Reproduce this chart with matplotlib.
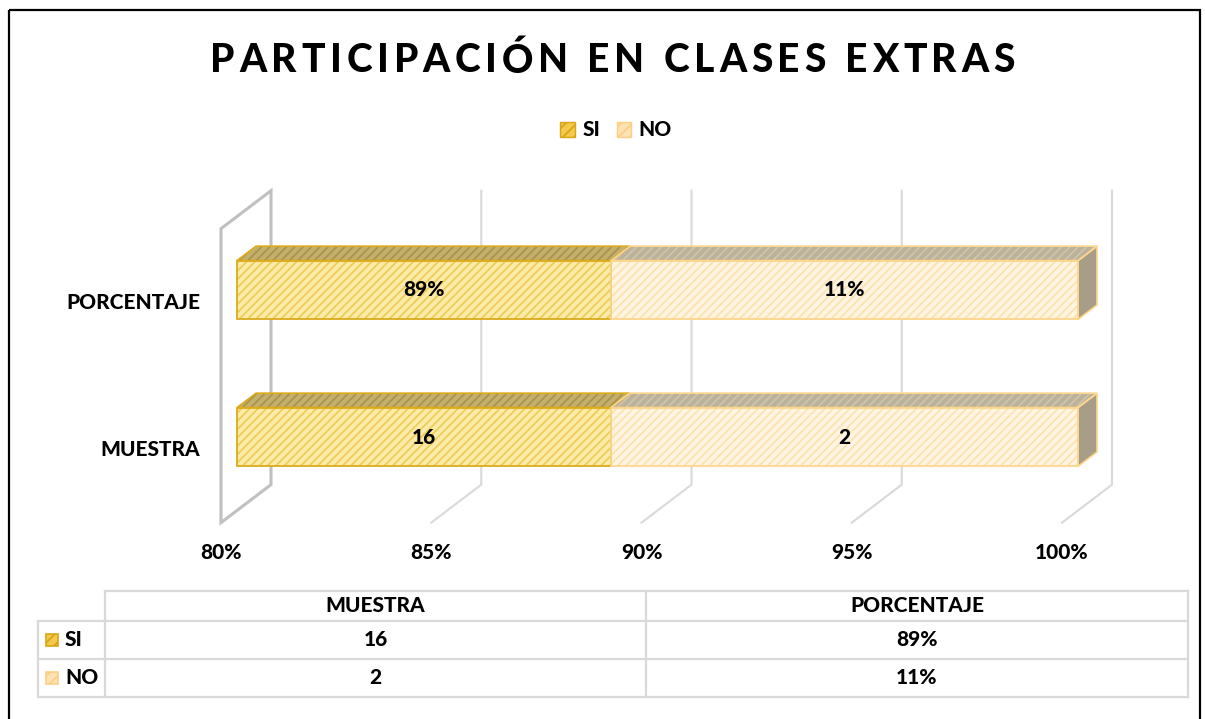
import matplotlib
matplotlib.use('Agg')
import matplotlib.pyplot as plt
from matplotlib.patches import Polygon, Rectangle, Patch
from matplotlib.lines import Line2D
from matplotlib.transforms import Affine2D

# ---------------- data ----------------
categories = ['MUESTRA', 'PORCENTAJE']
series_names = ['SI', 'NO']
si_values = [16, 0.889]
no_values = [2, 0.111]
si_labels = ['16', '89%']
no_labels = ['2', '11%']
x_ticks = [80, 85, 90, 95, 100]
x_tick_labels = ['80%', '85%', '90%', '95%', '100%']
title = 'PARTICIPACIÓN EN CLASES EXTRAS'

# ---------------- style ----------------
FONT = ['Lato', 'DejaVu Sans']
plt.rcParams['font.family'] = FONT
plt.rcParams['hatch.linewidth'] = 1.3
WT = 'black'
FS = 15

W, H = 1205, 719
PX_X = 841 / 20.0      # pixels per percent unit
PX_Y = 147.0           # pixels per category
OX, OY = 237, 437      # pixel position of (80%, category 0) on bar front plane
X0 = 80
DXu, DYu = 50 / PX_X, 38 / PX_Y   # full depth vector in data units
ZB, BD = 0.32, 0.38               # bar front depth and bar depth
BAR_H = 0.4

SI_FACE, SI_HATCH, SI_EDGE = '#fcecaa', '#f0cc58', '#dcab1c'
SI_TOP, SI_TOP_H = '#c4b06a', '#a9944e'
NO_FACE, NO_HATCH, NO_EDGE = '#fff5e2', '#fde2b0', '#fdd68c'
NO_TOP, NO_TOP_H = '#bcb19a', '#cfc3aa'
NO_SIDE = '#a89d86'
GRID = '#d9d9d9'
WALL = '#c0c0c0'

fig = plt.figure(figsize=(W / 100, H / 100), dpi=100)
ax = fig.add_axes([0, 0, 1, 1])
ax.set_xlim(X0 + (0 - OX) / PX_X, X0 + (W - OX) / PX_X)
ax.set_ylim((OY - H) / PX_Y, OY / PX_Y)
ax.axis('off')

TPX = Affine2D().scale(1 / W, -1 / H).translate(0, 1) + fig.transFigure


def P(x, y, z):
    return (x + (z - ZB) * DXu, y + (z - ZB) * DYu)


# outer frame
fig.add_artist(Rectangle((9, 10), 1191, 740, transform=TPX, fill=False,
                         edgecolor='black', linewidth=1.6))

# back wall gridlines + floor lines
ylo, yhi = -0.5, len(categories) - 0.5
for t in x_ticks[1:]:
    pts = [P(t, yhi, 1), P(t, ylo, 1), P(t, ylo, 0)]
    ax.plot([p[0] for p in pts], [p[1] for p in pts], color=GRID, lw=1.5,
            zorder=1, solid_joinstyle='miter')
# left wall
wall = [P(X0, ylo, 0), P(X0, yhi, 0), P(X0, yhi, 1), P(X0, ylo, 1)]
ax.add_patch(Polygon(wall, closed=True, fill=False, edgecolor=WALL, lw=2.2,
                     zorder=1, joinstyle='miter'))


def face(pts, fc, hc, ec, z=3, lw=1.2):
    ax.add_patch(Polygon(pts, closed=True, facecolor=fc, edgecolor=hc,
                         hatch='////', lw=0, zorder=z))
    ax.add_patch(Polygon(pts, closed=True, fill=False, edgecolor=ec,
                         lw=lw, zorder=z + 0.1, joinstyle='miter'))


for i, cat in enumerate(categories):
    total = si_values[i] + no_values[i]
    si_pct = si_values[i] / total * 100
    yt = i + BAR_H / 2
    yb = i - BAR_H / 2
    # top faces
    face([P(X0, yt, ZB), P(si_pct, yt, ZB), P(si_pct, yt, ZB + BD), P(X0, yt, ZB + BD)],
         SI_TOP, SI_TOP_H, SI_EDGE)
    face([P(si_pct, yt, ZB), P(100, yt, ZB), P(100, yt, ZB + BD), P(si_pct, yt, ZB + BD)],
         NO_TOP, NO_TOP_H, NO_EDGE)
    # right end face
    ax.add_patch(Polygon([P(100, yb, ZB), P(100, yt, ZB), P(100, yt, ZB + BD), P(100, yb, ZB + BD)],
                         closed=True, facecolor=NO_SIDE, edgecolor=NO_EDGE, lw=1.2, zorder=3))
    # front faces
    ax.barh(i, si_pct - X0, left=X0, height=BAR_H, color=SI_FACE, edgecolor=SI_HATCH,
            hatch='////', lw=0, zorder=4)
    ax.barh(i, si_pct - X0, left=X0, height=BAR_H, fill=False, edgecolor=SI_EDGE, lw=1.3, zorder=5)
    ax.barh(i, 100 - si_pct, left=si_pct, height=BAR_H, color=NO_FACE, edgecolor=NO_HATCH,
            hatch='////', lw=0, zorder=4)
    ax.barh(i, 100 - si_pct, left=si_pct, height=BAR_H, fill=False, edgecolor=NO_EDGE, lw=1.3, zorder=5)
    # data labels
    ax.text((X0 + si_pct) / 2, i, si_labels[i], ha='center', va='center',
            fontsize=FS, fontweight=WT, zorder=6)
    ax.text((si_pct + 100) / 2, i, no_labels[i], ha='center', va='center',
            fontsize=FS, fontweight=WT, zorder=6)
    # category label
    ax.annotate(cat, xy=P(X0, i, 0), xytext=(-21, 0), textcoords='offset pixels',
                ha='right', va='center', fontsize=FS, fontweight=WT)

# tick labels
for t, lab in zip(x_ticks, x_tick_labels):
    ax.annotate(lab, xy=P(t, ylo, 0), xytext=(0, -30), textcoords='offset pixels',
                ha='center', va='center', fontsize=FS, fontweight=WT)

# legend
handles = [Patch(facecolor='#f2c94c', edgecolor='#d9a514', hatch='///', label='SI'),
           Patch(facecolor='#fde3b3', edgecolor='#fccf85', hatch='///', label='NO')]
fig.legend(handles=handles, loc='center', bbox_to_anchor=(616 / W, 1 - 130 / H), ncol=2,
           frameon=False, handlelength=0.7, handleheight=0.7, handletextpad=0.35,
           columnspacing=0.8, prop={'weight': WT, 'size': FS})

# title with letter spacing
renderer = fig.canvas.get_renderer()


def text_w(s, size):
    t = fig.text(0, 0, s, fontsize=size, fontweight=WT)
    w = t.get_window_extent(renderer).width
    t.remove()
    return w


TSIZE = 28
xl, xr, yc = 210, 1015, 61
bar_w = text_w('|', TSIZE)
nat = text_w(title, TSIZE)
spacing = (xr - xl - nat) / (len(title) - 1)
for k, ch in enumerate(title):
    if ch == ' ':
        continue
    off = text_w(title[:k] + '|', TSIZE) - bar_w if k > 0 else 0
    fig.text(xl + off + k * spacing, yc, ch, transform=TPX, fontsize=TSIZE,
             fontweight=WT, ha='left', va='center')

# data table
TL = dict(color=GRID, lw=1.6, transform=TPX)
cx = [38, 105, 646, 1188]
ry = [591, 621, 659, 697]
fig.add_artist(Line2D([cx[1], cx[3]], [ry[0], ry[0]], **TL))
for y in ry[1:]:
    fig.add_artist(Line2D([cx[0], cx[3]], [y, y], **TL))
fig.add_artist(Line2D([cx[0], cx[0]], [ry[1], ry[3]], **TL))
for x in cx[1:]:
    fig.add_artist(Line2D([x, x], [ry[0], ry[3]], **TL))
for j, cat in enumerate(categories):
    xc = (cx[j + 1] + cx[j + 2]) / 2
    fig.text(xc, (ry[0] + ry[1]) / 2, cat, transform=TPX, ha='center', va='center',
             fontsize=FS, fontweight=WT)
    fig.text(xc, (ry[1] + ry[2]) / 2, si_labels[j], transform=TPX, ha='center', va='center',
             fontsize=FS, fontweight=WT)
    fig.text(xc, (ry[2] + ry[3]) / 2, no_labels[j], transform=TPX, ha='center', va='center',
             fontsize=FS, fontweight=WT)
for r, (name, h) in enumerate(zip(series_names, handles)):
    yc_r = (ry[r + 1] + ry[r + 2]) / 2
    fig.add_artist(Rectangle((46, yc_r - 6), 12, 12, transform=TPX, facecolor=h.get_facecolor(),
                             edgecolor=h.get_edgecolor(), hatch='///', lw=1.2))
    fig.text(65, yc_r, name, transform=TPX, ha='left', va='center', fontsize=FS,
             fontweight=WT)

fig.savefig('out.png', dpi=100)
